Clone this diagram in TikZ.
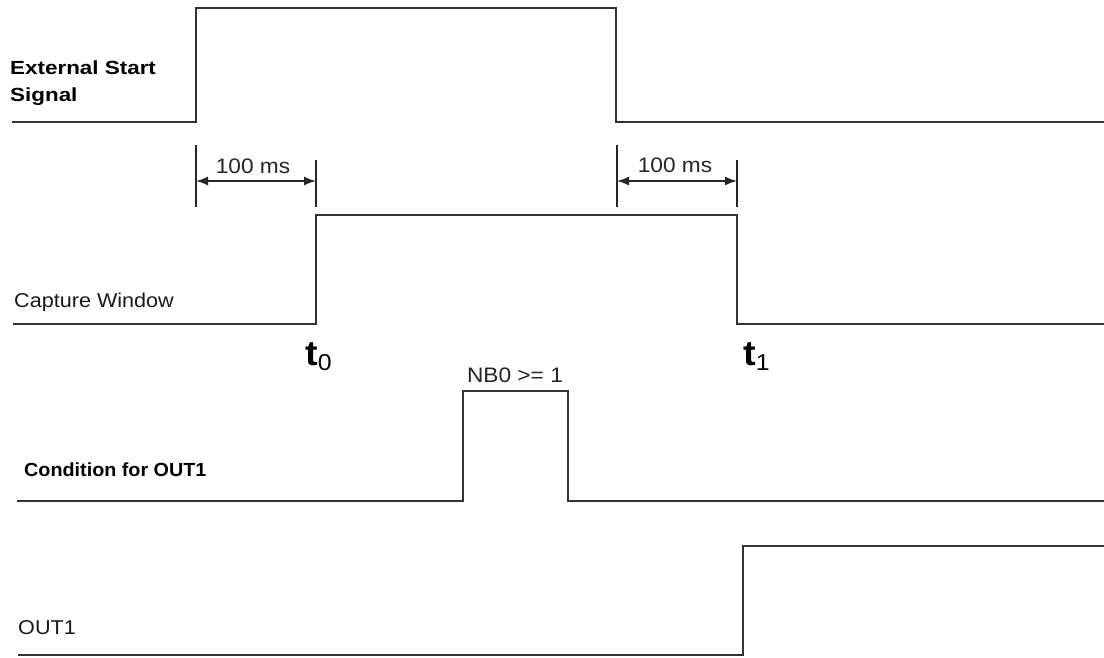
\documentclass[tikz,border=0pt]{standalone}
\usepackage{fontspec}
\setmainfont{Liberation Sans}[FakeStretch=1.08]
\newfontfamily\boldlab{Liberation Sans}[FakeStretch=1.18,BoldFont={Liberation Sans Bold}]
\newfontfamily\boldlabn{Liberation Sans}[FakeStretch=1.04,BoldFont={Liberation Sans Bold}]
\usetikzlibrary{arrows.meta}
\begin{document}
\begin{tikzpicture}[x=1pt,y=-1pt,
  wave/.style={line width=2pt,draw=black!80,line join=miter},
  tick/.style={line width=1.5pt,draw=black!85},
  dim/.style={line width=1.5pt,draw=black!85,{Latex[length=12pt,width=9pt]}-{Latex[length=12pt,width=9pt]}},
  lab/.style={inner sep=0pt,anchor=west,font=\fontsize{20}{27}\selectfont,text=black!90},
  blab/.style={inner sep=0pt,anchor=west,font=\boldlab\bfseries\fontsize{19}{27}\selectfont,align=left},
  blabn/.style={inner sep=0pt,anchor=west,font=\boldlabn\bfseries\fontsize{19}{27}\selectfont,align=left},
  dlab/.style={inner sep=0pt,font=\fontsize{21}{25}\selectfont,text=black!85},
  tlab/.style={inner sep=0pt,anchor=base west,text=black}]
\useasboundingbox (0,0) rectangle (1104,657);
\fill[white] (0,0) rectangle (1104,657);

% External Start Signal
\coordinate (e0) at (12,122);
\coordinate (e1) at (196,122);
\coordinate (e2) at (196,8);
\coordinate (e3) at (616,8);
\coordinate (e4) at (616,122);
\coordinate (e5) at (1104,122);
\draw[wave] (e0) -- (e1) -- (e2) -- (e3) -- (e4) -- (e5);
\node[blab] (ess) at (10,83) {External Start\\Signal};

% Capture Window
\coordinate (c0) at (13,324);
\coordinate (c1) at (316,324);
\coordinate (c2) at (316,215);
\coordinate (c3) at (737,215);
\coordinate (c4) at (737,324);
\coordinate (c5) at (1104,324);
\draw[wave] (c0) -- (c1) -- (c2) -- (c3) -- (c4) -- (c5);
\node[lab] (cw) at (14,302) {Capture Window};

% dimension 1
\coordinate (d1a) at (196,145);
\coordinate (d1b) at (196,207);
\coordinate (d1c) at (316,160);
\coordinate (d1d) at (316,207);
\draw[tick] (d1a) -- (d1b);
\draw[tick] (d1c) -- (d1d);
\coordinate (a1l) at (196,181);
\coordinate (a1r) at (316,181);
\draw[dim] (a1l) -- (a1r);
\node[dlab] (ms1) at (253,166) {100 ms};

% dimension 2
\coordinate (d2a) at (617,145);
\coordinate (d2b) at (617,207);
\coordinate (d2c) at (737,160);
\coordinate (d2d) at (737,207);
\draw[tick] (d2a) -- (d2b);
\draw[tick] (d2c) -- (d2d);
\coordinate (a2l) at (617,181);
\coordinate (a2r) at (737,181);
\draw[dim] (a2l) -- (a2r);
\node[dlab] (ms2) at (675,165) {100 ms};

% t0, t1
\node[tlab] (t0) at (305,365) {\fontsize{35}{35}\selectfont\bfseries t\raisebox{-5pt}{\fontsize{23}{23}\selectfont\mdseries 0}};
\node[tlab] (t1) at (743,365) {\fontsize{35}{35}\selectfont\bfseries t\raisebox{-5pt}{\fontsize{23}{23}\selectfont\mdseries 1}};

% Condition for OUT1
\coordinate (k0) at (17,501);
\coordinate (k1) at (463,501);
\coordinate (k2) at (463,391);
\coordinate (k3) at (568,391);
\coordinate (k4) at (568,501);
\coordinate (k5) at (1104,501);
\draw[wave] (k0) -- (k1) -- (k2) -- (k3) -- (k4) -- (k5);
\node[blabn] (cond) at (24,470) {Condition for OUT1};
\node[dlab] (nb) at (515,375) {NB0 >= 1};

% OUT1
\coordinate (o0) at (18,655);
\coordinate (o1) at (743,655);
\coordinate (o2) at (743,546);
\coordinate (o3) at (1104,546);
\draw[wave] (o0) -- (o1) -- (o2) -- (o3);
\node[lab] (out) at (18,628) {OUT1};
\end{tikzpicture}
\end{document}
